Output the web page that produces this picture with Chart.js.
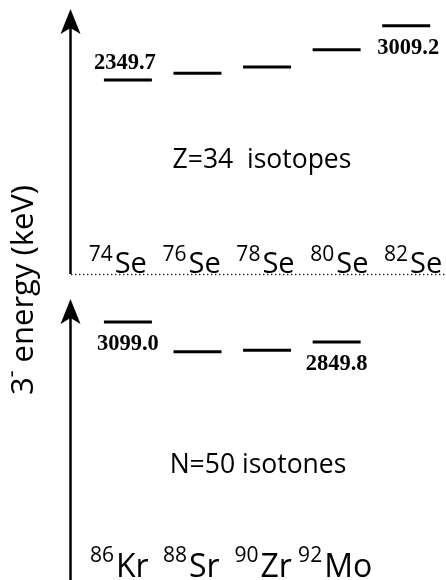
<!DOCTYPE html>
<html>
<head>
<meta charset="utf-8">
<title>3- levels</title>
<script src="https://cdn.jsdelivr.net/npm/chart.js@4.4.1/dist/chart.umd.min.js"></script>
<style>
  html, body { margin: 0; padding: 0; background: #fff; }
  #levels { display: block; }
</style>
</head>
<body>
<canvas id="levels" width="446" height="580"></canvas>
<script>
// Z=34 isotopes
const seMass = ['74', '76', '78', '80', '82'];
const seSymbol = ['Se', 'Se', 'Se', 'Se', 'Se'];
const seEnergy = [2349.7, 2430, 2507, 2718, 3009.2];

// N=50 isotones
const nMass = ['86', '88', '90', '92'];
const nSymbol = ['Kr', 'Sr', 'Zr', 'Mo'];
const nEnergy = [3099.0, 2729, 2745, 2849.8];

// levels that get their energy printed
const seLabelled = [0, 4];
const nLabelled = [0, 3];

const SANS = '"Open Sans", sans-serif';
const SERIF = '"Liberation Serif", "Times New Roman", serif';

const W = 446, H = 580;
const LEVEL_HALF = 24, LEVEL_WIDTH = 3;
// scatter points make Chart.js inset the chart area by their half size
const INSET = LEVEL_HALF + LEVEL_WIDTH / 2;

// axis limits so that value v0 lands on pixel p0 and v1 on p1
function xRange(p0, v0, p1, v1) {
    const k = (v1 - v0) / (p1 - p0);
    const min = v0 - (p0 - INSET) * k;
    return { min, max: min + (W - 2 * INSET) * k };
}
function yRange(p0, v0, p1, v1) {
    const k = (v0 - v1) / (p1 - p0);
    const max = v0 + (p0 - INSET) * k;
    return { min: max - (H - 2 * INSET) * k, max };
}

function arrow(ctx, x, tip, bottom) {
    ctx.save();
    ctx.strokeStyle = '#000';
    ctx.fillStyle = '#000';
    ctx.lineWidth = 2.5;
    ctx.beginPath();
    ctx.moveTo(x, tip + 18);
    ctx.lineTo(x, bottom);
    ctx.stroke();
    ctx.beginPath();
    ctx.moveTo(x, tip);
    ctx.lineTo(x + 10, tip + 25);
    ctx.lineTo(x, tip + 19);
    ctx.lineTo(x - 10, tip + 25);
    ctx.closePath();
    ctx.fill();
    ctx.restore();
}

// mass number as superscript, symbol after it, whole thing centred on cx
function isotope(ctx, cx, mass, sym, supSize, symSize, baseline, rise) {
    ctx.font = supSize + 'px ' + SANS;
    const wm = ctx.measureText(mass).width;
    ctx.font = symSize + 'px ' + SANS;
    const ws = ctx.measureText(sym).width;
    const gap = 2;
    const left = cx - (wm + gap + ws) / 2;
    ctx.textAlign = 'left';
    ctx.textBaseline = 'alphabetic';
    ctx.font = supSize + 'px ' + SANS;
    ctx.fillText(mass, left, baseline - rise);
    ctx.font = symSize + 'px ' + SANS;
    ctx.fillText(sym, left + wm + gap, baseline);
}

// energy printed above (side < 0) or below (side > 0) a level
function energyLabel(ctx, px, py, value, side) {
    ctx.font = 'bold 22.5px ' + SERIF;
    ctx.textAlign = 'center';
    ctx.textBaseline = 'alphabetic';
    ctx.fillText(value.toFixed(1), px, side < 0 ? py - 10.5 : py + 28);
}

const levelDiagram = {
    id: 'levelDiagram',
    beforeDatasetsDraw(chart) {
        const ctx = chart.ctx;
        arrow(ctx, 70.5, 9, 274);
        arrow(ctx, 70.5, 299, 580);

        // separator between the two panels
        ctx.save();
        ctx.strokeStyle = '#222';
        ctx.lineWidth = 1.4;
        ctx.setLineDash([1.4, 2.6]);
        ctx.beginPath();
        ctx.moveTo(71, 274.5);
        ctx.lineTo(446, 274.5);
        ctx.stroke();
        ctx.restore();
    },
    afterDatasetsDraw(chart) {
        const ctx = chart.ctx;
        const { x, xSe, xN, ySe, yN } = chart.scales;
        ctx.save();
        ctx.fillStyle = '#000';

        // energy values next to the labelled levels
        seLabelled.forEach((i, k) => {
            const px = x.getPixelForValue(i);
            const py = ySe.getPixelForValue(seEnergy[i]);
            if (k === 0) energyLabel(ctx, px - 3, py, seEnergy[i], -1);
            else energyLabel(ctx, px + 2, py, seEnergy[i], 1);
        });
        nLabelled.forEach(i => {
            const px = x.getPixelForValue(i);
            const py = yN.getPixelForValue(nEnergy[i]);
            energyLabel(ctx, px, py, nEnergy[i], 1);
        });

        // nucleus names under each column
        seMass.forEach((m, i) => {
            isotope(ctx, xSe.getPixelForValue(i), m, seSymbol[i], 21, 29, 273, 12);
        });
        nMass.forEach((m, i) => {
            isotope(ctx, xN.getPixelForValue(i), m, nSymbol[i], 21, 32, 577, 15);
        });

        // panel titles
        ctx.font = '26.5px ' + SANS;
        ctx.textAlign = 'center';
        ctx.fillText('Z=34  isotopes', 262, 168);
        ctx.fillText('N=50 isotones', 258, 473);

        // energy axis title, rotated
        ctx.translate(33, 290);
        ctx.rotate(-Math.PI / 2);
        ctx.font = '31px ' + SANS;
        const w3 = ctx.measureText('3').width;
        ctx.font = '21px ' + SANS;
        const wMinus = ctx.measureText('-').width;
        ctx.font = '31px ' + SANS;
        const wRest = ctx.measureText(' energy (keV)').width;
        let tx = -(w3 + wMinus + wRest) / 2;
        ctx.textAlign = 'left';
        ctx.fillText('3', tx, 0);
        tx += w3;
        ctx.font = '21px ' + SANS;
        ctx.fillText('-', tx, -15);
        tx += wMinus;
        ctx.font = '31px ' + SANS;
        ctx.fillText(' energy (keV)', tx, 0);
        ctx.restore();
    }
};

const levelStyle = {
    pointStyle: 'line',
    pointRadius: LEVEL_HALF,
    pointHoverRadius: LEVEL_HALF,
    borderWidth: LEVEL_WIDTH,
    pointBorderWidth: LEVEL_WIDTH,
    borderColor: '#000',
    backgroundColor: '#000',
    clip: false
};

new Chart(document.getElementById('levels'), {
    type: 'scatter',
    data: {
        datasets: [
            {
                label: 'Z=34 isotopes',
                data: seEnergy.map((e, i) => ({ x: i, y: e })),
                xAxisID: 'x',
                yAxisID: 'ySe',
                ...levelStyle
            },
            {
                label: 'N=50 isotones',
                data: nEnergy.map((e, i) => ({ x: i, y: e })),
                xAxisID: 'x',
                yAxisID: 'yN',
                ...levelStyle
            }
        ]
    },
    options: {
        responsive: false,
        animation: false,
        events: [],
        layout: { padding: 0 },
        scales: {
            x: { type: 'linear', display: false, ...xRange(127.2, 0, 337.5, 3) },
            xSe: { type: 'linear', display: false, ...xRange(117, 0, 414.6, 4) },
            xN: { type: 'linear', display: false, ...xRange(118.5, 0, 336, 3) },
            ySe: { type: 'linear', display: false, ...yRange(78.7, 2349.7, 24.3, 3009.2) },
            yN: { type: 'linear', display: false, ...yRange(322.3, 3099.0, 342.3, 2849.8) }
        },
        plugins: {
            legend: { display: false },
            tooltip: { enabled: false }
        }
    },
    plugins: [levelDiagram]
});
</script>
</body>
</html>
